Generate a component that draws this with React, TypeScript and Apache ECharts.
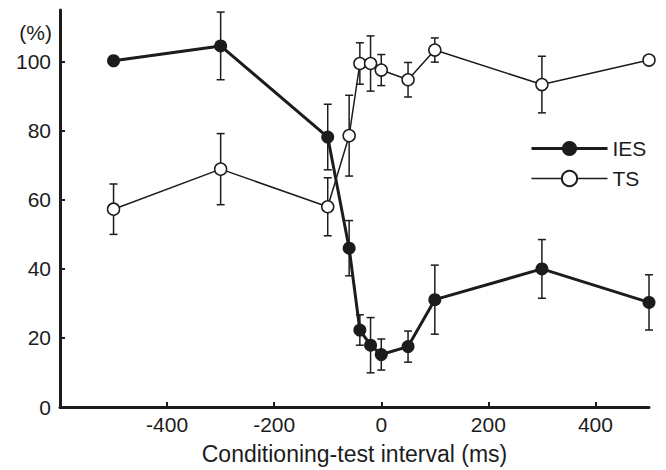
import React, { useEffect, useRef } from "react";
import * as echarts from "echarts";

const xs = [-500, -300, -100, -60, -40, -20, 0, 50, 100, 300, 500];
const iesValues = [100.3, 104.6, 78.2, 46, 22.3, 17.9, 15.2, 17.5, 31.1, 40, 30.3];
const iesErrors = [0, 9.8, 9.5, 8, 4.4, 8, 4.5, 4.5, 10, 8.5, 8];
const tsValues = [57.3, 68.9, 58, 78.6, 99.5, 99.5, 97.6, 94.8, 103.4, 93.4, 100.5];
const tsErrors = [7.3, 10.3, 8.4, 11.7, 6, 8, 4.5, 5, 3.5, 8.2, 0];
const xTicks = [-400, -200, 0, 200, 400];
const yTicks = [0, 20, 40, 60, 80, 100];

const FONT = "'Liberation Sans', Arial, sans-serif";
const INK = "#1c1c1c";

function errData(vals: number[], errs: number[]) {
  const out: number[][] = [];
  vals.forEach((v, i) => {
    if (errs[i] > 0) out.push([xs[i], v - errs[i], v + errs[i]]);
  });
  return out;
}

function errSeries(name: string, vals: number[], errs: number[]) {
  return {
    type: "custom",
    name: name + "-err",
    z: 1,
    silent: true,
    data: errData(vals, errs),
    encode: { x: 0, y: [1, 2] },
    renderItem: (params: any, api: any) => {
      const x = api.value(0);
      const lo = api.coord([x, api.value(1)]);
      const hi = api.coord([x, api.value(2)]);
      const w = 4;
      const style = { stroke: INK, lineWidth: 1.5 };
      return {
        type: "group",
        children: [
          { type: "line", shape: { x1: lo[0], y1: lo[1], x2: hi[0], y2: hi[1] }, style },
          { type: "line", shape: { x1: lo[0] - w, y1: lo[1], x2: lo[0] + w, y2: lo[1] }, style },
          { type: "line", shape: { x1: hi[0] - w, y1: hi[1], x2: hi[0] + w, y2: hi[1] }, style },
        ],
      };
    },
  };
}

export default function App() {
  const ref = useRef<HTMLDivElement>(null);
  useEffect(() => {
    if (!ref.current) return;
    const chart = echarts.init(ref.current, null, { renderer: "svg" });
    chart.setOption({
      animation: false,
      backgroundColor: "#ffffff",
      grid: { left: 60, right: 17, top: 10, bottom: 62 },
      xAxis: {
        type: "value",
        min: -600,
        max: 500,
        interval: 200,
        name: "Conditioning-test interval (ms)",
        nameLocation: "middle",
        nameGap: 35,
        nameTextStyle: { fontFamily: FONT, fontSize: 23, color: INK },
        axisLine: { show: true, onZero: false, lineStyle: { color: INK, width: 3 } },
        axisTick: { show: true, inside: true, length: 5, customValues: xTicks, lineStyle: { color: INK, width: 2 } },
        axisLabel: { customValues: xTicks, fontFamily: FONT, fontSize: 21, color: INK, margin: 7 },
        splitLine: { show: false },
      },
      yAxis: {
        type: "value",
        min: 0,
        max: 115,
        interval: 20,
        axisLine: { show: true, onZero: false, lineStyle: { color: INK, width: 3 } },
        axisTick: { show: true, inside: true, length: 5, customValues: yTicks, lineStyle: { color: INK, width: 2 } },
        axisLabel: { customValues: yTicks, fontFamily: FONT, fontSize: 21, color: INK, margin: 9 },
        splitLine: { show: false },
      },
      legend: {
        orient: "vertical",
        left: 525,
        top: 133,
        itemWidth: 76,
        itemHeight: 19,
        itemGap: 9,
        data: [
          { name: "IES", lineStyle: { width: 3, color: INK } },
          { name: "TS", lineStyle: { width: 1.5, color: INK } },
        ],
        textStyle: { fontFamily: FONT, fontSize: 21, color: INK },
      },
      graphic: [
        {
          type: "text",
          x: 52,
          y: 32,
          style: { text: "(%)", fontFamily: FONT, fontSize: 21, fill: INK, textAlign: "right", textVerticalAlign: "middle" },
        },
      ],
      series: [
        errSeries("TS", tsValues, tsErrors),
        errSeries("IES", iesValues, iesErrors),
        {
          type: "line",
          name: "TS",
          z: 3,
          data: xs.map((x, i) => [x, tsValues[i]]),
          symbol: "circle",
          symbolSize: 12,
          lineStyle: { color: INK, width: 1.5 },
          itemStyle: { color: "#ffffff", borderColor: INK, borderWidth: 1.5 },
        },
        {
          type: "line",
          name: "IES",
          z: 4,
          data: xs.map((x, i) => [x, iesValues[i]]),
          symbol: "circle",
          symbolSize: 13,
          lineStyle: { color: INK, width: 3 },
          itemStyle: { color: INK, borderColor: INK, borderWidth: 0 },
        },
      ],
    });
    return () => chart.dispose();
  }, []);
  return <div ref={ref} style={{ position: "absolute", left: 0, top: 0, width: 666, height: 470 }} />;
}
